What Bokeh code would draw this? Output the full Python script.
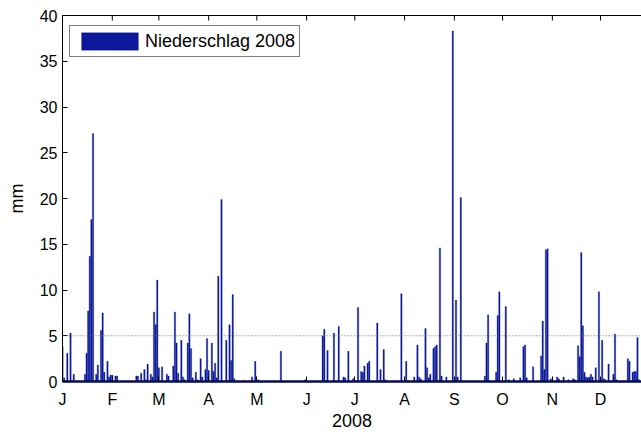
from bokeh.plotting import figure
from bokeh.models import (Range1d, FixedTicker, LinearAxis, Span, Legend,
                          LegendItem, ColumnDataSource)
from bokeh.embed import file_html
from bokeh.resources import INLINE

# Day of year 2008 (0 = 1 Jan) and daily precipitation in mm (days without rain omitted)
rain_day = [0, 1, 3, 5, 7, 14, 15, 16, 17, 18, 19, 21, 22, 24, 25, 26, 28, 29, 30, 31,
            33, 34, 46, 47, 49, 51, 52, 53, 55, 56, 57, 58, 59, 60, 62, 65, 66, 69, 70,
            71, 72, 74, 75, 76, 78, 79, 80, 81, 83, 84, 86, 87, 89, 90, 91, 93, 94, 95,
            96, 97, 99, 102, 104, 105, 106, 107, 113, 118, 120, 122, 136, 151, 162, 163,
            165, 169, 172, 175, 176, 178, 181, 184, 186, 187, 188, 190, 191, 196, 198,
            200, 201, 211, 214, 219, 221, 222, 223, 226, 227, 228, 229, 231, 232, 233,
            235, 236, 239, 243, 245, 246, 248, 263, 264, 265, 270, 271, 272, 276, 278,
            281, 285, 287, 288, 289, 293, 298, 299, 300, 301, 302, 304, 308, 309, 312,
            315, 318, 319, 321, 322, 323, 324, 325, 326, 327, 328, 329, 330, 332, 334,
            336, 337, 338, 340, 343, 344, 345, 352, 353, 355, 356, 357, 358, 359]
rain_mm = [3.8, 0.4, 3.1, 5.3, 0.8, 0.8, 3.1, 7.7, 13.7, 17.7, 27.1, 0.8, 1.8, 5.6, 7.5,
           1.0, 2.2, 0.5, 0.7, 0.7, 0.6, 0.6, 0.6, 0.6, 0.9, 1.3, 0.2, 1.9, 0.8, 0.5,
           7.6, 6.2, 11.1, 1.5, 1.6, 0.8, 0.6, 1.7, 7.6, 4.2, 0.9, 4.5, 0.5, 0.2, 4.2,
           7.4, 3.6, 0.4, 1.0, 0.2, 2.5, 0.5, 1.3, 4.7, 1.2, 4.2, 1.1, 2.0, 0.4, 11.5,
           19.9, 4.5, 6.2, 2.3, 9.5, 0.3, 0.1, 0.5, 2.2, 0.2, 3.3, 0.2, 5.0, 5.7, 3.4,
           5.3, 6.0, 0.5, 0.4, 3.3, 0.3, 8.1, 1.1, 1.0, 1.7, 2.0, 2.2, 6.4, 1.3, 3.5,
           0.2, 9.6, 2.2, 0.5, 4.0, 0.5, 0.3, 5.8, 1.5, 0.4, 0.8, 3.6, 3.8, 4.0, 14.6,
           0.6, 0.5, 38.3, 8.9, 0.5, 20.1, 0.6, 4.2, 7.3, 1.0, 7.2, 9.8, 8.2, 0.2, 0.3,
           0.4, 3.8, 4.0, 0.4, 1.6, 2.8, 6.6, 1.3, 14.4, 14.5, 0.3, 0.5, 0.3, 0.5, 0.2,
           0.3, 0.2, 3.9, 2.7, 14.1, 6.1, 1.0, 0.5, 0.4, 0.5, 0.8, 0.5, 1.5, 9.8, 4.5,
           0.3, 0.2, 1.9, 0.8, 5.2, 0.2, 2.5, 2.2, 1.0, 1.1, 1.1, 4.8, 0.2]

month_start_day = [0, 31, 60, 91, 121, 152, 182, 213, 244, 274, 305, 335]
month_labels = ["J", "F", "M", "A", "M", "J", "J", "A", "S", "O", "N", "D"]
y_ticks = [0, 5, 10, 15, 20, 25, 30, 35, 40]
threshold_mm = 5
legend_label = "Niederschlag 2008"
x_label = "2008"
y_label = "mm"

FONT = "Liberation Sans"
BAR = "#0a1899"
Y_MAX = 40
TOP_TICK_LEN = 0.55  # inward tick length on the top border, in mm units (~5 px)

p = figure(width=641, height=434, output_backend="svg", toolbar_location=None,
           x_range=Range1d(0, 360.5), y_range=Range1d(0, Y_MAX),
           min_border_left=62, min_border_right=0, min_border_top=15,
           min_border_bottom=53)
p.outline_line_color = None
p.xgrid.visible = False
p.ygrid.visible = False
p.background_fill_color = "white"

src = ColumnDataSource(dict(day=rain_day, mm=rain_mm))
r = p.vbar(x="day", top="mm", width=0.85, source=src,
           fill_color=BAR, line_color=BAR, line_width=0.3)

p.add_layout(Span(location=threshold_mm, dimension="width", line_color="#707070",
                  line_width=1, line_dash="1 2"))

# inward month ticks on the top border
p.segment(x0=month_start_day, y0=[Y_MAX] * len(month_start_day),
          x1=month_start_day, y1=[Y_MAX - TOP_TICK_LEN] * len(month_start_day),
          line_color="black", line_width=1)

xa = p.xaxis[0]
xa.ticker = FixedTicker(ticks=month_start_day)
xa.major_label_overrides = {d: m for d, m in zip(month_start_day, month_labels)}
xa.major_tick_in = 5
xa.major_tick_out = 0
xa.minor_tick_line_color = None
xa.major_label_standoff = 9
xa.major_label_text_font = FONT
xa.major_label_text_font_size = "16px"
xa.major_label_text_color = "black"
xa.axis_label = x_label
xa.axis_label_text_font = FONT
xa.axis_label_text_font_size = "18px"
xa.axis_label_text_font_style = "normal"
xa.axis_label_text_color = "black"
xa.axis_label_standoff = 3
xa.axis_line_color = "#050c55"
xa.axis_line_width = 2.5
xa.major_tick_line_color = "black"

ya = p.yaxis[0]
ya.ticker = FixedTicker(ticks=y_ticks)
ya.major_tick_in = 5
ya.major_tick_out = 0
ya.minor_tick_line_color = None
ya.major_label_standoff = 5
ya.major_label_text_font = FONT
ya.major_label_text_font_size = "16px"
ya.major_label_text_color = "black"
ya.axis_label = y_label
ya.axis_label_text_font = FONT
ya.axis_label_text_font_size = "18px"
ya.axis_label_text_font_style = "normal"
ya.axis_label_text_color = "black"
ya.axis_label_standoff = 10
ya.axis_line_color = "black"

# top border line only (no ticks / labels from the axis itself)
top = LinearAxis(ticker=FixedTicker(ticks=[]), major_tick_in=0, major_tick_out=0,
                 minor_tick_line_color=None, major_label_standoff=0,
                 axis_line_color="black")
p.add_layout(top, "above")

legend = Legend(items=[LegendItem(label=legend_label, renderers=[r])],
                location=(7, 324), margin=0, padding=4, glyph_width=71,
                glyph_height=22, label_standoff=0, border_line_color="black",
                border_line_width=1, label_text_font=FONT,
                label_text_font_size="18px", label_text_color="black",
                background_fill_alpha=1.0)
p.add_layout(legend)

open("out.html", "w").write(file_html(p, INLINE))
